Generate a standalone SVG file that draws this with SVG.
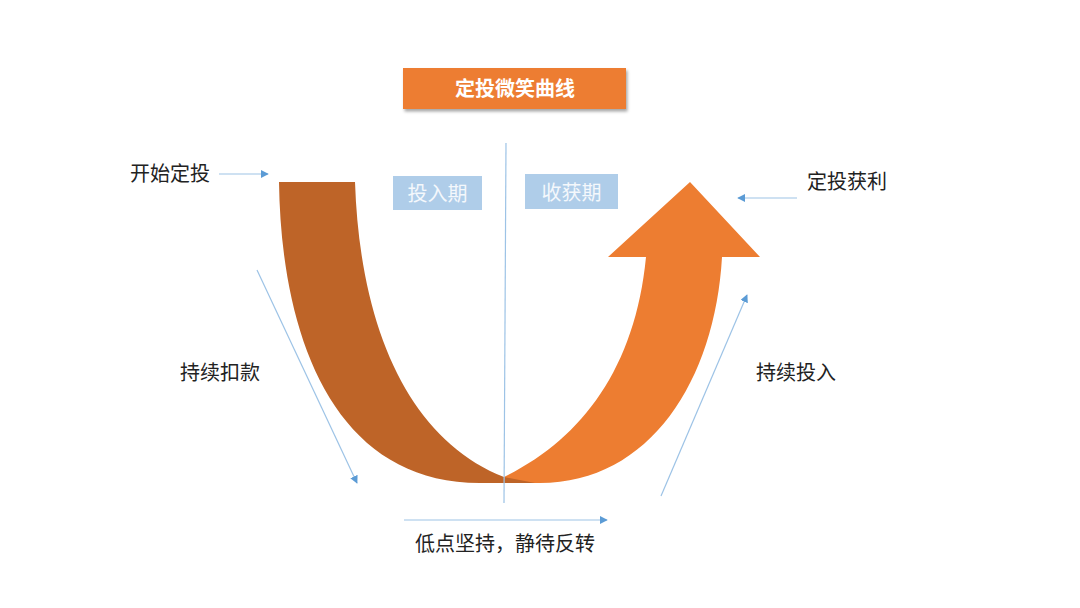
<svg xmlns="http://www.w3.org/2000/svg" width="1080" height="608" viewBox="0 0 1080 608">
  <defs>
    <style>
      .lbl { font-family: "Noto Sans CJK SC", "Noto Sans", sans-serif; font-size: 20px; fill: #222222; }
      .phase { fill: #AFCDE9; }
      .phaseText { font-family: "Noto Sans CJK SC", "Noto Sans", sans-serif; font-size: 20px; fill: #F4F8FC; text-anchor: middle; }
      .title { font-family: "Noto Sans CJK SC", "Noto Sans", sans-serif; font-size: 20px; font-weight: bold; fill: #FFFFFF; text-anchor: middle; }
      .conn { stroke: #9DC3E6; stroke-width: 1.2; fill: none; marker-end: url(#ah); }
    </style>
    <marker id="ah" viewBox="0 0 10 10" refX="9" refY="5" markerWidth="8" markerHeight="8" markerUnits="userSpaceOnUse" orient="auto">
      <path d="M0,0 L10,5 L0,10 Z" fill="#5B9BD5"/>
    </marker>
    <filter id="shadow" x="-10%" y="-30%" width="120%" height="170%">
      <feDropShadow dx="1.5" dy="2.5" stdDeviation="1.5" flood-color="#000000" flood-opacity="0.35"/>
    </filter>
  </defs>
  <rect width="1080" height="608" fill="#FFFFFF"/>

  <g id="title">
    <rect x="403" y="68" width="223" height="41" fill="#ED7D31" filter="url(#shadow)"/>
    <text class="title" x="515" y="96">定投微笑曲线</text>
  </g>

  <g id="phase-invest">
    <rect class="phase" x="393" y="176" width="89" height="34"/>
    <text class="phaseText" x="437.5" y="201">投入期</text>
  </g>
  <g id="phase-harvest">
    <rect class="phase" x="525" y="174" width="93" height="35"/>
    <text class="phaseText" x="571.5" y="200">收获期</text>
  </g>

  <g id="rise-arrow">
    <path d="M504,477 C580,440 635,370 646,257 L608,257 L690,182 L760,257 L722,257 C715,380 650,483 540,483 L504,483 Z" fill="#ED7D31"/>
  </g>

  <g id="fall-band">
    <path d="M279,182 L355,182 C360,330 410,440 504,477 L535,483 L480,483 C330,483 281,330 279,182 Z" fill="#BE6428"/>
  </g>

  <g id="divider">
    <line x1="506" y1="143" x2="504" y2="503" stroke="#9DC3E6" stroke-width="1.2"/>
  </g>

  <g id="connectors">
    <line class="conn" x1="219" y1="174" x2="268" y2="174"/>
    <line class="conn" x1="797" y1="198" x2="738" y2="198"/>
    <line class="conn" x1="257" y1="270" x2="357" y2="483"/>
    <line class="conn" x1="661" y1="496" x2="747" y2="295"/>
    <line class="conn" x1="404" y1="520" x2="607" y2="520"/>
  </g>

  <g id="label-start"><text class="lbl" x="130" y="181">开始定投</text></g>
  <g id="label-profit"><text class="lbl" x="807" y="189">定投获利</text></g>
  <g id="label-deduct"><text class="lbl" x="180" y="380">持续扣款</text></g>
  <g id="label-invest"><text class="lbl" x="756" y="380">持续投入</text></g>
  <g id="label-low"><text class="lbl" x="415" y="551">低点坚持，静待反转</text></g>
</svg>
